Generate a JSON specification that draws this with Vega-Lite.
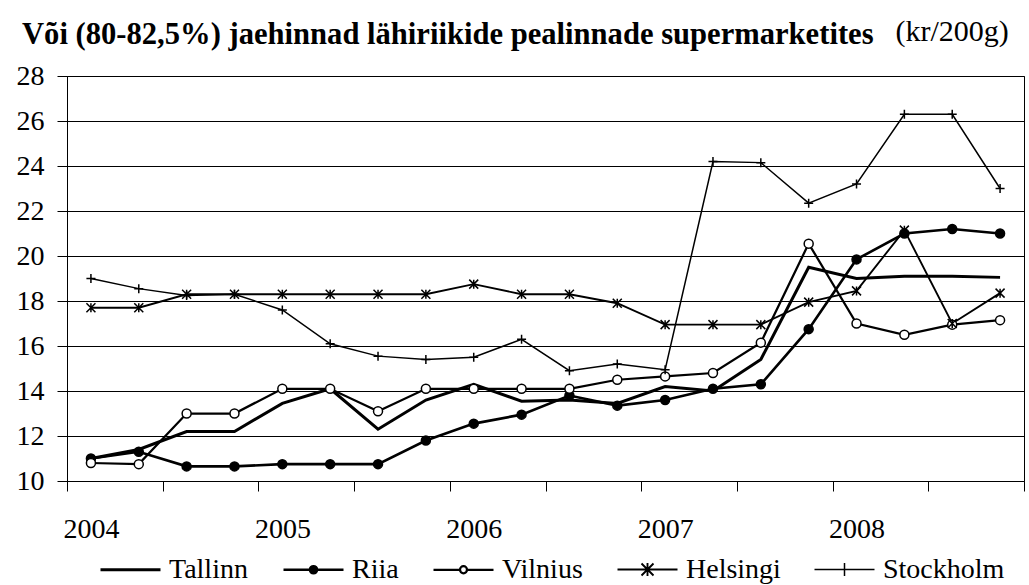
{
  "$schema": "https://vega.github.io/schema/vega-lite/v6.json",
  "autosize": {"type": "none"},
  "padding": {"left": 67, "top": 76, "right": 5, "bottom": 104},
  "width": 957,
  "height": 405,
  "background": "white",
  "title": {
    "text": "Või (80-82,5%) jaehinnad lähiriikide pealinnade supermarketites",
    "anchor": "start",
    "frame": "group",
    "dx": -45,
    "font": "Liberation Serif",
    "fontSize": 30.6,
    "fontWeight": "bold",
    "color": "black",
    "baseline": "alphabetic",
    "offset": -59
  },
  "data": {
    "values": [
      {"t": 2004.125, "Tallinn": 11.0, "Riia": 11.0, "Vilnius": 10.8, "Helsingi": 17.7, "Stockholm": 19.0},
      {"t": 2004.375, "Tallinn": 11.4, "Riia": 11.3, "Vilnius": 10.75, "Helsingi": 17.7, "Stockholm": 18.55},
      {"t": 2004.625, "Tallinn": 12.2, "Riia": 10.65, "Vilnius": 13.0, "Helsingi": 18.3, "Stockholm": 18.25},
      {"t": 2004.875, "Tallinn": 12.2, "Riia": 10.65, "Vilnius": 13.0, "Helsingi": 18.3, "Stockholm": 18.3},
      {"t": 2005.125, "Tallinn": 13.45, "Riia": 10.75, "Vilnius": 14.1, "Helsingi": 18.3, "Stockholm": 17.6},
      {"t": 2005.375, "Tallinn": 14.1, "Riia": 10.75, "Vilnius": 14.1, "Helsingi": 18.3, "Stockholm": 16.1},
      {"t": 2005.625, "Tallinn": 12.3, "Riia": 10.75, "Vilnius": 13.1, "Helsingi": 18.3, "Stockholm": 15.55},
      {"t": 2005.875, "Tallinn": 13.6, "Riia": 11.8, "Vilnius": 14.1, "Helsingi": 18.3, "Stockholm": 15.4},
      {"t": 2006.125, "Tallinn": 14.3, "Riia": 12.55, "Vilnius": 14.1, "Helsingi": 18.75, "Stockholm": 15.5},
      {"t": 2006.375, "Tallinn": 13.55, "Riia": 12.95, "Vilnius": 14.1, "Helsingi": 18.3, "Stockholm": 16.3},
      {"t": 2006.625, "Tallinn": 13.6, "Riia": 13.8, "Vilnius": 14.1, "Helsingi": 18.3, "Stockholm": 14.9},
      {"t": 2006.875, "Tallinn": 13.45, "Riia": 13.35, "Vilnius": 14.5, "Helsingi": 17.9, "Stockholm": 15.2},
      {"t": 2007.125, "Tallinn": 14.2, "Riia": 13.6, "Vilnius": 14.65, "Helsingi": 16.95, "Stockholm": 14.95},
      {"t": 2007.375, "Tallinn": 14.0, "Riia": 14.1, "Vilnius": 14.8, "Helsingi": 16.95, "Stockholm": 24.2},
      {"t": 2007.625, "Tallinn": 15.4, "Riia": 14.3, "Vilnius": 16.15, "Helsingi": 16.95, "Stockholm": 24.15},
      {"t": 2007.875, "Tallinn": 19.5, "Riia": 16.75, "Vilnius": 20.55, "Helsingi": 17.95, "Stockholm": 22.35},
      {"t": 2008.125, "Tallinn": 19.0, "Riia": 19.85, "Vilnius": 17.0, "Helsingi": 18.45, "Stockholm": 23.2},
      {"t": 2008.375, "Tallinn": 19.1, "Riia": 21.0, "Vilnius": 16.5, "Helsingi": 21.15, "Stockholm": 26.3},
      {"t": 2008.625, "Tallinn": 19.1, "Riia": 21.2, "Vilnius": 16.95, "Helsingi": 17.0, "Stockholm": 26.3},
      {"t": 2008.875, "Tallinn": 19.05, "Riia": 21.0, "Vilnius": 17.15, "Helsingi": 18.35, "Stockholm": 23.0}
    ]
  },
  "transform": [
    {"fold": ["Tallinn", "Riia", "Vilnius", "Helsingi", "Stockholm"], "as": ["city", "v"]}
  ],
  "encoding": {
    "x": {
      "field": "t",
      "type": "quantitative",
      "scale": {"domain": [2004, 2009], "nice": false, "zero": false},
      "axis": {
        "title": null,
        "values": [2004, 2004.5, 2005, 2005.5, 2006, 2006.5, 2007, 2007.5, 2008, 2008.5, 2009],
        "labelExpr": "datum.value % 1 === 0 && datum.value < 2009 ? '' + datum.value : ''",
        "labelOffset": 24,
        "labelFlush": false,
        "labelOverlap": false,
        "labelAngle": 0,
        "labelAlign": "center",
        "labelFont": "Liberation Serif",
        "labelFontSize": 28,
        "labelColor": "black",
        "labelPadding": 24,
        "labelBaseline": "top",
        "tickSize": 10,
        "tickColor": "black",
        "domainColor": "black",
        "grid": false
      }
    },
    "y": {
      "field": "v",
      "type": "quantitative",
      "scale": {"domain": [10, 28], "nice": false, "zero": false},
      "axis": {
        "values": [10, 12, 14, 16, 18, 20, 22, 24, 26, 28],
        "title": "(kr/200g)",
        "titleAngle": 0,
        "titleX": 828,
        "titleY": -36,
        "titleAlign": "left",
        "titleBaseline": "alphabetic",
        "titleFont": "Liberation Serif",
        "titleFontSize": 30,
        "titleFontWeight": "normal",
        "titleColor": "black",
        "labelFont": "Liberation Serif",
        "labelFontSize": 28,
        "labelColor": "black",
        "labelPadding": 13,
        "tickSize": 10,
        "tickColor": "black",
        "domainColor": "black",
        "grid": true,
        "gridColor": "black",
        "gridWidth": 1,
        "gridOpacity": 1
      }
    }
  },
  "layer": [
    {
      "mark": {"type": "line", "color": "black"},
      "encoding": {
        "detail": {"field": "city", "type": "nominal"},
        "strokeWidth": {
          "field": "city",
          "type": "nominal",
          "scale": {"domain": ["Tallinn", "Riia", "Vilnius", "Helsingi", "Stockholm"], "range": [3, 1.5, 1.5, 1.5, 1.5]},
          "legend": {
            "title": null,
            "orient": "none",
            "legendX": 32,
            "legendY": 462,
            "direction": "horizontal",
            "columns": 5,
            "columnPadding": 30,
            "symbolSize": 3600,
            "symbolStrokeColor": "black",
            "labelFont": "Liberation Serif",
            "labelFontSize": 28,
            "labelColor": "black",
            "labelOffset": 7,
            "labelLimit": 300,
            "encode": {
              "symbols": {
                "update": {
                  "shape": {"signal": "datum.label === 'Tallinn' ? 'M-1,0L1,0' : datum.label === 'Riia' ? 'M-1,0L1,0M0.117,0A0.117,0.117,0,1,1,-0.117,0A0.117,0.117,0,1,1,0.117,0Z' : datum.label === 'Vilnius' ? 'M-1,0L-0.117,0M0.117,0L1,0M0.117,0A0.117,0.117,0,1,1,-0.117,0A0.117,0.117,0,1,1,0.117,0Z' : datum.label === 'Helsingi' ? 'M-1,0L1,0M-0.2,-0.2L0.2,0.2M-0.2,0.2L0.2,-0.2M0,-0.22L0,0.22' : 'M-1,0L1,0M0,-0.22L0,0.22'"},
                  "fill": {"signal": "datum.label === 'Riia' ? 'black' : datum.label === 'Vilnius' ? 'white' : 'transparent'"},
                  "stroke": {"value": "black"},
                  "opacity": {"value": 1}
                }
              }
            }
          }
        }
      }
    },
    {
      "transform": [{"filter": "datum.city !== 'Tallinn'"}],
      "mark": {"type": "point", "stroke": "black", "strokeWidth": 1.5, "opacity": 1, "filled": false},
      "encoding": {
        "shape": {
          "field": "city",
          "type": "nominal",
          "scale": {"domain": ["Riia", "Vilnius", "Helsingi", "Stockholm"], "range": ["circle", "circle", "M-1,-1L1,1M-1,1L1,-1M0,-1L0,1", "M-1,0L1,0M0,-1L0,1"]},
          "legend": null
        },
        "fill": {
          "field": "city",
          "type": "nominal",
          "scale": {"domain": ["Riia", "Vilnius", "Helsingi", "Stockholm"], "range": ["black", "white", "transparent", "transparent"]},
          "legend": null
        },
        "size": {
          "field": "city",
          "type": "nominal",
          "scale": {"domain": ["Riia", "Vilnius", "Helsingi", "Stockholm"], "range": [81, 81, 196, 196]},
          "legend": null
        }
      }
    }
  ],
  "config": {
    "view": {"stroke": "black", "strokeWidth": 1},
    "axis": {"domainWidth": 1, "tickWidth": 1}
  }
}
